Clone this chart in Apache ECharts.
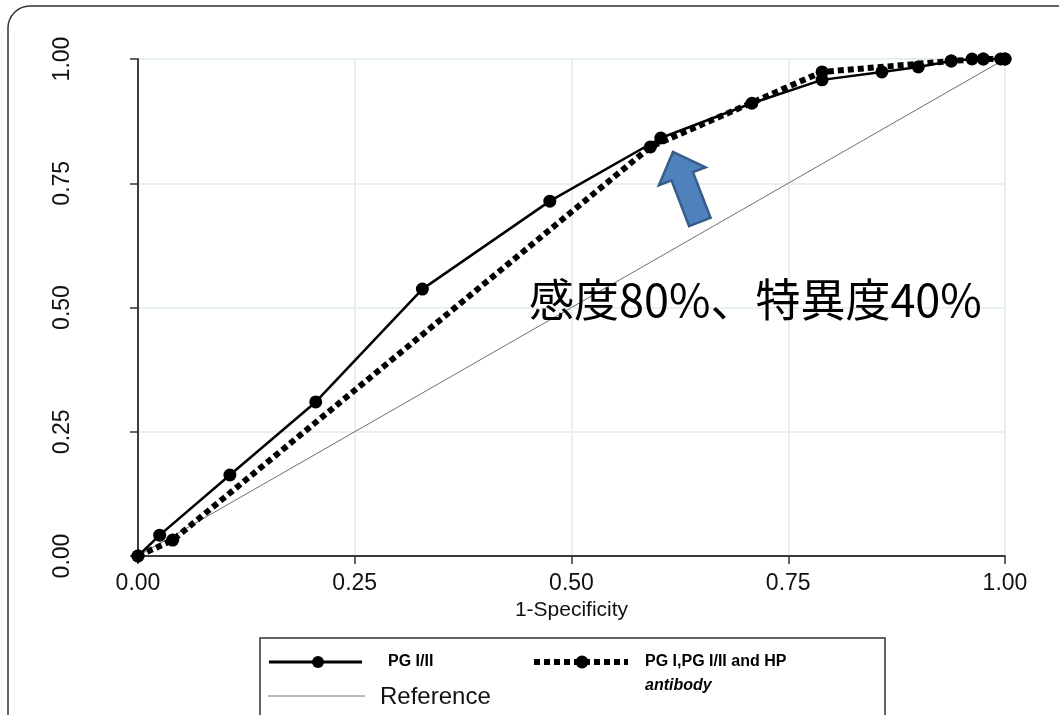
<!DOCTYPE html>
<html>
<head>
<meta charset="utf-8">
<script src="https://cdn.jsdelivr.net/npm/echarts@6/dist/echarts.min.js"></script>
<style>
  html, body { margin: 0; padding: 0; background: #ffffff; }
  #chart { width: 1059px; height: 715px; }
</style>
</head>
<body>
<div id="chart"></div>
<script>
// ROC curves: 1-Specificity (x) against Sensitivity (y)
const axisTicks = [0, 0.25, 0.5, 0.75, 1];

// PG I/II
const fprPG = [0, 0.025, 0.106, 0.205, 0.328, 0.475, 0.603, 0.708, 0.789, 0.858, 0.900, 0.938, 0.962, 0.975, 0.995, 1];
const tprPG = [0, 0.042, 0.163, 0.310, 0.537, 0.714, 0.841, 0.911, 0.958, 0.974, 0.984, 0.996, 1, 1, 1, 1];

// PG I, PG I/II and HP antibody
const fprCombo = [0, 0.040, 0.591, 0.789, 0.938, 0.975, 1];
const tprCombo = [0, 0.032, 0.823, 0.974, 0.996, 1, 1];

// Chance diagonal
const fprRef = [0, 1];
const tprRef = [0, 1];

const seriesNames = ['PG I/II', 'PG I,PG I/II and HP', 'antibody', 'Reference'];
const xAxisTitle = '1-Specificity';
const noteText = '感度80%、特異度40%';
// arrow pointing at the cut-off, from tail to tip (data units)
const arrowTail = [0.648, 0.672];
const arrowTip = [0.617, 0.813];

const pairs = (xs, ys) => xs.map((x, i) => [x, ys[i]]);

const chart = echarts.init(document.getElementById('chart'), null, { renderer: 'canvas' });

const baseFont = '"Liberation Sans", Arial, sans-serif';

const option = {
  backgroundColor: '#ffffff',
  animation: false,
  grid: { left: 138, right: 54, top: 59, bottom: 159, containLabel: false },
  xAxis: {
    type: 'value', min: 0, max: 1, interval: 0.25,
    name: xAxisTitle, nameLocation: 'middle', nameGap: 43,
    nameTextStyle: { fontFamily: baseFont, fontSize: 21, color: '#111' },
    axisLine: { show: true, onZero: false, lineStyle: { color: '#000', width: 1.5 } },
    axisTick: { show: true, length: 8, lineStyle: { color: '#333', width: 1.5 } },
    axisLabel: { margin: 16, fontFamily: baseFont, fontSize: 23, color: '#111',
      formatter: v => v.toFixed(2) },
    splitLine: { show: true, lineStyle: { color: '#e6eff1', width: 2 } }
  },
  yAxis: {
    type: 'value', min: 0, max: 1, interval: 0.25,
    axisLine: { show: true, onZero: false, lineStyle: { color: '#000', width: 1.5 } },
    axisTick: { show: true, length: 8, lineStyle: { color: '#333', width: 1.5 } },
    axisLabel: { rotate: 90, margin: 64, fontFamily: baseFont, fontSize: 23, color: '#111',
      formatter: v => v.toFixed(2) },
    splitLine: { show: true, lineStyle: { color: '#e6eff1', width: 2 } }
  },
  series: [
    {
      name: 'Reference', type: 'line', data: pairs(fprRef, tprRef),
      showSymbol: false, symbol: 'none', z: 2,
      lineStyle: { color: '#6e6e6e', width: 1 }
    },
    {
      name: 'Combo', type: 'line', data: pairs(fprCombo, tprCombo),
      symbol: 'circle', symbolSize: 13, z: 3,
      itemStyle: { color: '#000' },
      lineStyle: { color: '#000', width: 6, type: [6, 4], cap: 'butt' }
    },
    {
      name: 'PG', type: 'line', data: pairs(fprPG, tprPG),
      symbol: 'circle', symbolSize: 13, z: 4,
      itemStyle: { color: '#000' },
      lineStyle: { color: '#000', width: 2.5 }
    }
  ]
};

chart.setOption(option);

// Arrow and note drawn on top of the plot
const tip = chart.convertToPixel({ gridIndex: 0 }, arrowTip);
const tail = chart.convertToPixel({ gridIndex: 0 }, arrowTail);
const dx = tip[0] - tail[0], dy = tip[1] - tail[1];
const len = Math.hypot(dx, dy);
const ux = dx / len, uy = dy / len;
const nx = -uy, ny = ux;
const headLen = 26, headHalf = 25, shaftHalf = 11.5;
const bx = tip[0] - ux * headLen, by = tip[1] - uy * headLen;
const arrowPts = [
  [tip[0], tip[1]],
  [bx + nx * headHalf, by + ny * headHalf],
  [bx + nx * shaftHalf, by + ny * shaftHalf],
  [tail[0] + nx * shaftHalf, tail[1] + ny * shaftHalf],
  [tail[0] - nx * shaftHalf, tail[1] - ny * shaftHalf],
  [bx - nx * shaftHalf, by - ny * shaftHalf],
  [bx - nx * headHalf, by - ny * headHalf]
];

const legendY1 = 662, legendY2 = 696;

chart.setOption({
  graphic: [
    // outer rounded frame
    { type: 'rect', z: 0, silent: true,
      shape: { x: 8, y: 6, width: 1120, height: 800, r: 22 },
      style: { fill: 'none', stroke: '#333', lineWidth: 1.5 } },
    // cut-off arrow
    { type: 'polygon', z: 100, shape: { points: arrowPts },
      style: { fill: '#4f81bd', stroke: '#385d8a', lineWidth: 2.5, lineJoin: 'miter' } },
    // note
    { type: 'text', z: 100, x: 529, y: 300,
      style: { text: noteText, fontFamily: '"Noto Sans CJK JP", "Noto Sans CJK SC", sans-serif',
        fontSize: 45, fill: '#000', verticalAlign: 'middle' } },
    // legend box
    { type: 'rect', z: 50, silent: true,
      shape: { x: 260, y: 638, width: 625, height: 120 },
      style: { fill: '#fff', stroke: '#333', lineWidth: 1.5 } },
    { type: 'line', z: 60, shape: { x1: 269, y1: legendY1, x2: 362, y2: legendY1 },
      style: { stroke: '#000', lineWidth: 3 } },
    { type: 'circle', z: 61, shape: { cx: 318, cy: legendY1, r: 6 }, style: { fill: '#000' } },
    { type: 'text', z: 60, x: 388, y: legendY1, style: { text: seriesNames[0],
      fontFamily: baseFont, fontWeight: 'bold', fontSize: 16, fill: '#000', verticalAlign: 'middle' } },
    { type: 'line', z: 60, shape: { x1: 534, y1: legendY1, x2: 628, y2: legendY1 },
      style: { stroke: '#000', lineWidth: 6, lineDash: [6, 4] } },
    { type: 'circle', z: 61, shape: { cx: 582, cy: legendY1, r: 6.5 }, style: { fill: '#000' } },
    { type: 'text', z: 60, x: 645, y: legendY1, style: { text: seriesNames[1],
      fontFamily: baseFont, fontWeight: 'bold', fontSize: 16, fill: '#000', verticalAlign: 'middle' } },
    { type: 'text', z: 60, x: 645, y: 686, style: { text: seriesNames[2],
      fontFamily: baseFont, fontWeight: 'bold', fontStyle: 'italic', fontSize: 16, fill: '#000', verticalAlign: 'middle' } },
    { type: 'line', z: 60, shape: { x1: 268, y1: legendY2, x2: 365, y2: legendY2 },
      style: { stroke: '#777', lineWidth: 1 } },
    { type: 'text', z: 60, x: 380, y: legendY2 + 1, style: { text: seriesNames[3],
      fontFamily: baseFont, fontSize: 24, fill: '#111', verticalAlign: 'middle' } }
  ]
});
</script>
</body>
</html>
